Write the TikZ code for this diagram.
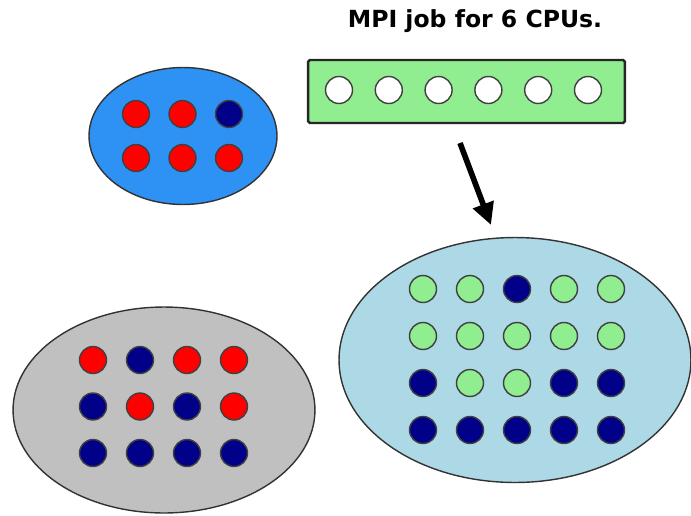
\documentclass[tikz,border=0pt]{standalone}
\usepackage{fontspec}
\setsansfont{DejaVu Sans}
\usepackage{tikz}
\usetikzlibrary{positioning,arrows.meta,shapes.geometric,calc}

\definecolor{poolblue}{HTML}{2E92F5}
\definecolor{poolgrey}{HTML}{C0C0C0}
\definecolor{poollight}{HTML}{ADD8E6}
\definecolor{jobgreen}{HTML}{90EE90}
\definecolor{cpunavy}{HTML}{000088}
\definecolor{cpured}{HTML}{FF0000}

\begin{document}
\begin{tikzpicture}[x=0.02cm, y=-0.02cm,
      pool/.style={draw=black!80, line width=0.8pt, ellipse, inner sep=0pt},
      cpu/.style={draw=black!75, line width=0.8pt, circle, minimum size=0.54cm, inner sep=0pt},
      jobbox/.style={draw=black!85, line width=1.4pt, rounded corners=1pt, fill=jobgreen,
                     minimum width=6.34cm, minimum height=1.26cm},
      arrow/.style={-{Triangle[length=4.4mm, width=4.2mm]}, line width=3.2pt},
      title/.style={font=\sffamily\bfseries\fontsize{13.4}{15}\selectfont}
  ]
  \useasboundingbox (0,0) rectangle (691,515);

  %% ---- Job ----
  \node[title] (caption) at (475,21) {MPI job for 6 CPUs.};
  \node[jobbox] (job) at (466.5,91.5) {};
  \foreach \i in {0,...,5}
    \node[cpu, fill=white] (j\i) at (339+49.8*\i,90) {};

  %% ---- Small pool (top left) ----
  \node[pool, fill=poolblue, minimum width=3.76cm, minimum height=2.74cm] (poolA) at (183,136) {};
  \foreach \c [count=\i from 0] in {cpured,cpured,cpunavy,cpured,cpured,cpured}
    \node[cpu, fill=\c] (a\i) at ({136+46.5*mod(\i,3)},{114+44*int(\i/3)}) {};

  %% ---- Grey pool (bottom left) ----
  \node[pool, fill=poolgrey, minimum width=6.04cm, minimum height=4.12cm] (poolB) at (164,410) {};
  \foreach \c [count=\i from 0] in {cpured,cpunavy,cpured,cpured,
                                    cpunavy,cpured,cpunavy,cpured,
                                    cpunavy,cpunavy,cpunavy,cpunavy}
    \node[cpu, fill=\c] (b\i) at ({93+47*mod(\i,4)},{360+46.5*int(\i/4)}) {};

  %% ---- Target pool (bottom right) ----
  \node[pool, fill=poollight, minimum width=7.04cm, minimum height=4.9cm] (poolC) at (515,360) {};
  \foreach \c [count=\i from 0] in {jobgreen,jobgreen,cpunavy,jobgreen,jobgreen,
                                    jobgreen,jobgreen,jobgreen,jobgreen,jobgreen,
                                    cpunavy,jobgreen,jobgreen,cpunavy,cpunavy,
                                    cpunavy,cpunavy,cpunavy,cpunavy,cpunavy}
    \node[cpu, fill=\c] (c\i) at ({423+47*mod(\i,5)},{289+47*int(\i/5)}) {};

  %% ---- Placement arrow ----
  \coordinate (from) at (460,143);
  \coordinate (to) at (491,225);
  \draw[arrow] (from) -- (to);

\end{tikzpicture}
\end{document}
